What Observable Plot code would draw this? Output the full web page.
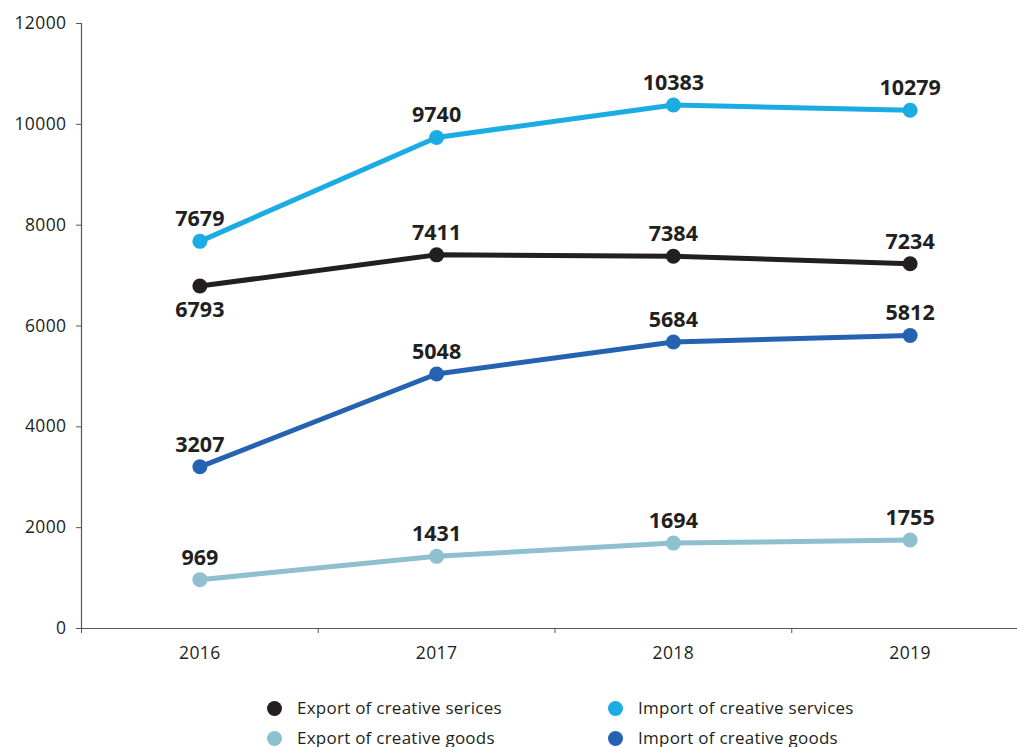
<!DOCTYPE html>
<html>
<head>
<meta charset="utf-8">
<script src="https://cdn.jsdelivr.net/npm/d3@7"></script>
<script src="https://cdn.jsdelivr.net/npm/@observablehq/plot@0.6"></script>
<style>
  html, body { margin: 0; padding: 0; background: #fff; overflow: hidden; width: 1017px; height: 747px; }
  #chart { position: absolute; left: 0; top: 0; width: 1028px; }
  #chart svg { max-width: none !important; overflow: visible; }
  #chart svg g[aria-label$="tick label"] text { letter-spacing: 0.4px; }
  #legend { position: absolute; left: 0; top: 697px; font-family: "Open Sans", sans-serif; font-size: 17px; letter-spacing: 0.25px; color: #231f20; }
  .item { position: absolute; white-space: nowrap; line-height: 22px; }
  .sw { position: absolute; width: 15px; height: 15px; border-radius: 50%; left: -30px; top: 4px; }
</style>
</head>
<body>
<div id="chart"></div>
<div id="legend"></div>
<script>
const years = [2016, 2017, 2018, 2019];
const seriesNames = [
  "Export of creative serices",
  "Import of creative services",
  "Export of creative goods",
  "Import of creative goods"
];
const seriesColors = ["#231f20", "#1aace3", "#8ec0cf", "#2563b2"];
const exportServices = [6793, 7411, 7384, 7234];
const importServices = [7679, 9740, 10383, 10279];
const exportGoods = [969, 1431, 1694, 1755];
const importGoods = [3207, 5048, 5684, 5812];
const yTicks = [0, 2000, 4000, 6000, 8000, 10000, 12000];

const valuesBySeries = [exportServices, importServices, exportGoods, importGoods];
const data = [];
seriesNames.forEach((s, i) => {
  years.forEach((y, j) => data.push({series: s, year: y, value: valuesBySeries[i][j], below: i === 0 && j === 0}));
});
const boundaries = years.map(y => y - 0.5);

const font = "Open Sans, sans-serif";
const chart = Plot.plot({
  width: 1028,
  height: 668,
  marginLeft: 81,
  marginRight: 0,
  marginTop: 23,
  marginBottom: 40,
  style: {fontFamily: font, fontSize: "17.5px", color: "#231f20", background: "transparent"},
  x: {domain: [2015.5, 2019.5]},
  y: {domain: [0, 12000]},
  color: {domain: seriesNames, range: seriesColors},
  marks: [
    Plot.axisY({ticks: yTicks, tickSize: 5, tickPadding: 10, tickFormat: d => String(d), label: null, fontSize: 17.5, stroke: "#555"}),
    Plot.axisX({ticks: years, tickSize: 0, tickPadding: 18, tickFormat: d => String(d), label: null, fontSize: 17.5}),
    Plot.axisX({ticks: boundaries, tickSize: 5, tickFormat: () => "", label: null, stroke: "#555"}),
    Plot.ruleY([0], {stroke: "#555", strokeWidth: 1.2}),
    Plot.ruleX([2015.5], {y1: 0, y2: 12000, stroke: "#555", strokeWidth: 1.2}),
    Plot.line(data, {x: "year", y: "value", z: "series", stroke: "series", strokeWidth: 5, curve: "linear"}),
    Plot.dot(data, {x: "year", y: "value", fill: "series", r: 7.5}),
    Plot.text(data, {x: "year", y: "value", text: d => String(d.value), lineAnchor: "bottom",
      fontSize: 21.5, fontWeight: "bold", fill: "#231f20",
      filter: d => !d.below, dy: -15}),
    Plot.text(data, {x: "year", y: "value", text: d => String(d.value), lineAnchor: "bottom",
      fontSize: 21.5, fontWeight: "bold", fill: "#231f20",
      filter: d => d.below, dy: 31})
  ]
});
document.getElementById("chart").appendChild(chart);

const legend = document.getElementById("legend");
const positions = [[297, 0], [638, 0], [297, 30], [638, 30]];
seriesNames.forEach((s, i) => {
  const it = document.createElement("div");
  it.className = "item";
  it.style.left = positions[i][0] + "px";
  it.style.top = positions[i][1] + "px";
  it.innerHTML = `<span class="sw" style="background:${seriesColors[i]}"></span>${s}`;
  legend.appendChild(it);
});
</script>
</body>
</html>
